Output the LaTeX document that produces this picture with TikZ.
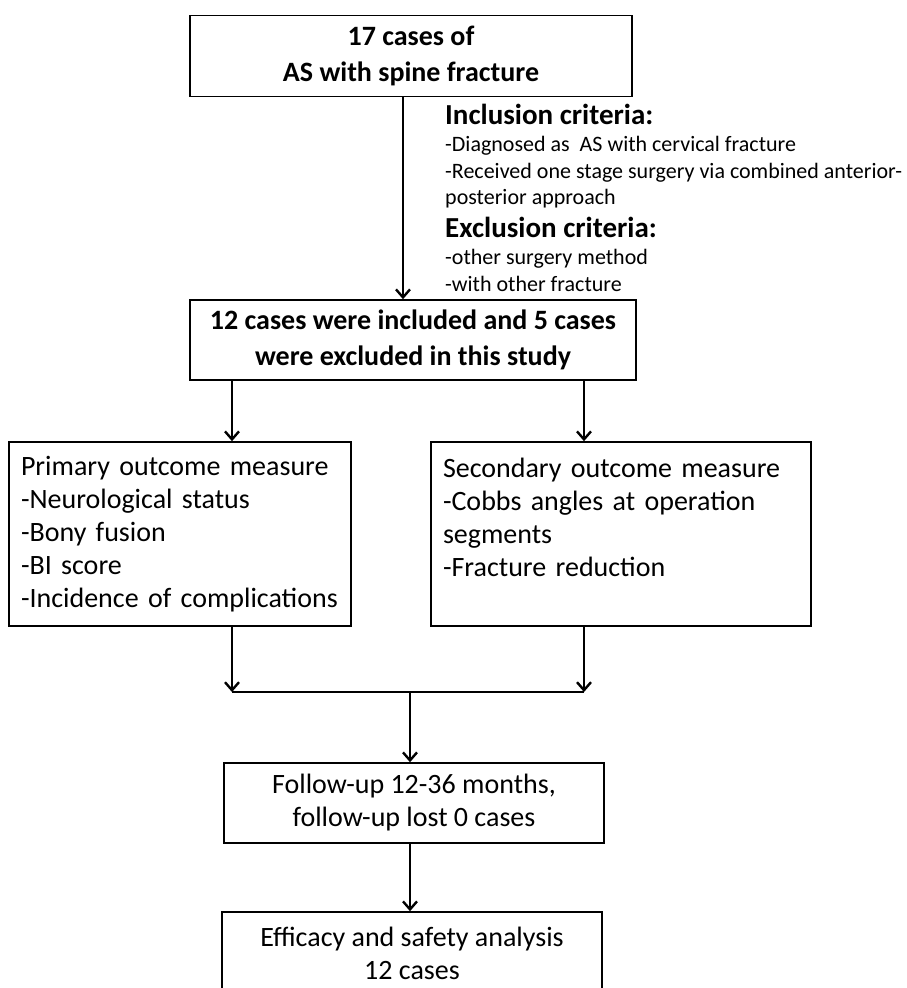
\documentclass[tikz,border=0pt]{standalone}
\usepackage{fontspec}
\setmainfont{Carlito}
\usetikzlibrary{arrows.meta}

\begin{document}
\begin{tikzpicture}[x=1pt,y=-1pt,
        arrow/.style = {line width=2.6pt,-{Straight Barb[length=8pt,width=14pt,line width=2.4pt]}},
        line/.style = {line width=2.6pt},
        box/.style = {draw,line width=1.6pt,inner sep=0pt,align=center},
        txt/.style = {font=\fontsize{28}{33}\selectfont},
        bld/.style = {font=\fontsize{28}{36}\selectfont\bfseries},
        head/.style = {font=\fontsize{29}{32}\selectfont\bfseries,inner sep=0pt,anchor=base west},
        small/.style = {font=\fontsize{22}{26.5}\selectfont,inner sep=0pt,align=left,anchor=north west}]
        \clip (0,0) rectangle (906,988);

        % Selection

        \node [box,bld,minimum width=442,minimum height=81] (cases) at (411,56) {17 cases of\\AS with spine fracture};
        \node [box,bld,minimum width=446,minimum height=80] (incl) at (413,340) {12 cases were included and 5 cases\\were excluded in this study};

        \node [head] (inhead) at (445,124) {Inclusion criteria:};
        \node [small] (initems) at (445,136.5) {-Diagnosed as \ AS with cervical fracture\\-Received one stage surgery via combined anterior-\\posterior approach};
        \node [head] (exhead) at (445,237) {Exclusion criteria:};
        \node [small] (exitems) at (445,249.5) {-other surgery method\\-with other fracture};

        \coordinate (a0) at ([xshift=-8pt]cases.south);
        \draw[arrow] (a0) -- (a0 |- incl.north);

        % Outcome measures

        \node [box,txt,align=left,minimum width=342,minimum height=184,text width=318] (prim) at (180,534)
            {Primary outcome measure\\-Neurological status\\-Bony fusion\\-BI score\\-Incidence of complications};
        \node [box,txt,align=left,minimum width=380,minimum height=184,text width=356] (sec) at (621,534)
            {Secondary outcome measure\\-Cobbs angles at operation\\segments\\-Fracture reduction\\\mbox{}};

        \coordinate (a1) at ([xshift=-181pt]incl.south);
        \coordinate (a2) at ([xshift=171pt]incl.south);
        \draw[arrow] (a1) -- (a1 |- prim.north);
        \draw[arrow] (a2) -- (a2 |- sec.north);

        % Follow-up

        \node [box,txt,minimum width=380,minimum height=80] (follow) at (414,803) {Follow-up 12-36 months,\\follow-up lost 0 cases};
        \node [box,txt,minimum width=380,minimum height=82] (result) at (412,953) {Efficacy and safety analysis\\12 cases};

        \coordinate (m) at ([xshift=-4pt]follow.north);
        \coordinate (b1) at (a1 |- 0,692);
        \coordinate (b2) at (a2 |- 0,692);
        \draw[arrow] (a1 |- prim.south) -- (b1);
        \draw[arrow] (a2 |- sec.south) -- (b2);
        \draw[line] (b1) -- (b2);
        \draw[arrow] (m |- b1) -- (m);
        \draw[arrow] (m |- follow.south) -- (m |- result.north);
\end{tikzpicture}
\end{document}
